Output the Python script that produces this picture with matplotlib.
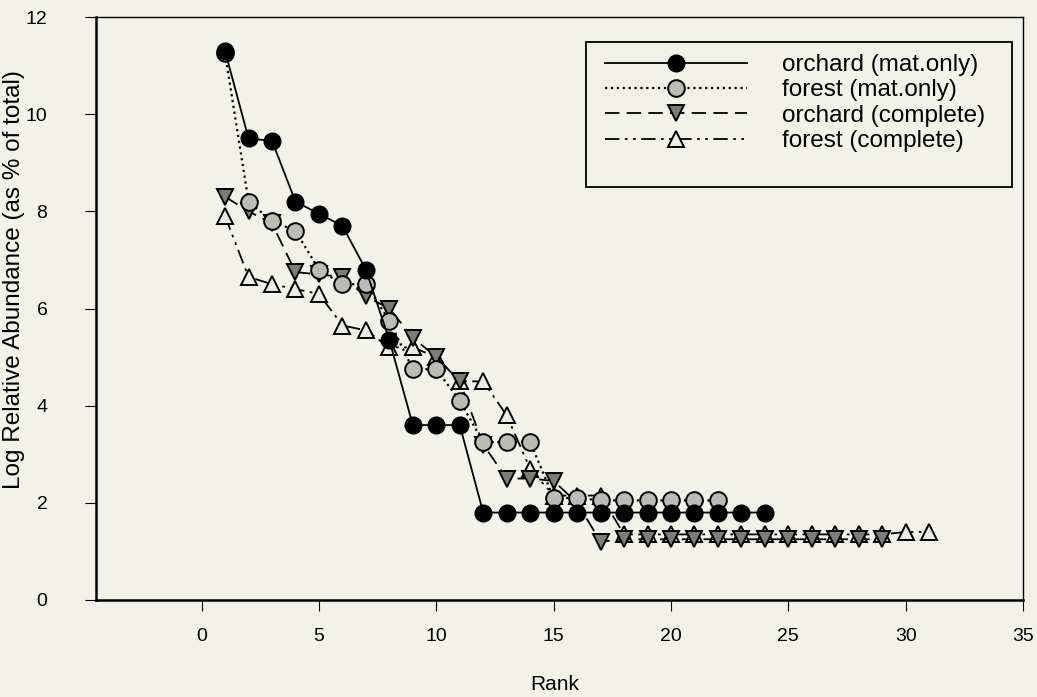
import matplotlib.pyplot as plt
from matplotlib.patches import Rectangle

# rank abundance data
orchard_mat_rank = list(range(1, 25))
orchard_mat = [11.3, 9.5, 9.45, 8.2, 7.95, 7.7, 6.8, 5.35, 3.6, 3.6, 3.6, 1.8,
               1.8, 1.8, 1.8, 1.8, 1.8, 1.8, 1.8, 1.8, 1.8, 1.8, 1.8, 1.8]

forest_mat_rank = list(range(1, 23))
forest_mat = [11.25, 8.2, 7.8, 7.6, 6.8, 6.5, 6.5, 5.75, 4.75, 4.75, 4.1, 3.25,
              3.25, 3.25, 2.1, 2.1, 2.05, 2.05, 2.05, 2.05, 2.05, 2.05]

orchard_comp_rank = list(range(1, 30))
orchard_comp = [8.3, 8.0, 7.75, 6.75, 6.7, 6.65, 6.25, 6.0, 5.4, 5.0, 4.5, 3.2,
                2.5, 2.5, 2.45, 2.0, 1.2, 1.25, 1.25, 1.25, 1.25, 1.25, 1.25,
                1.25, 1.25, 1.25, 1.25, 1.25, 1.25]

forest_comp_rank = list(range(1, 32))
forest_comp = [7.9, 6.65, 6.5, 6.4, 6.3, 5.65, 5.55, 5.2, 5.2, 5.0, 4.5, 4.5,
               3.8, 2.7, 2.15, 2.15, 2.15, 1.35, 1.35, 1.35, 1.35, 1.35, 1.35,
               1.35, 1.35, 1.35, 1.35, 1.35, 1.35, 1.4, 1.4]

bg = '#f2f2e8'
plt.rcParams['font.family'] = ['Liberation Sans', 'DejaVu Sans']

W, H = 1037, 697
fig = plt.figure(figsize=(W / 100, H / 100), dpi=100, facecolor=bg)
ax = fig.add_axes([96 / W, 1 - 600 / H, (1023 - 96) / W, (600 - 17) / H], facecolor=bg)

ms = 12
ax.plot(orchard_mat_rank, orchard_mat, '-', color='black', lw=1.3,
        marker='o', ms=ms, mfc='black', mec='black', label='orchard (mat.only)', zorder=5)
ax.plot(forest_mat_rank, forest_mat, ':', color='black', lw=1.6,
        marker='o', ms=ms, mfc='#bcbcb6', mec='black', mew=1.4, label='forest (mat.only)', zorder=4)
ax.plot(orchard_comp_rank, orchard_comp, color='black', lw=1.3, dashes=(8, 4),
        marker='v', ms=ms, mfc='#7c7c78', mec='black', mew=1.4, label='orchard (complete)', zorder=3)
ax.plot(forest_comp_rank, forest_comp, color='black', lw=1.3, dashes=(8, 3, 1.5, 3, 1.5, 3),
        marker='^', ms=ms, mfc='#ececE2', mec='black', mew=1.4, label='forest (complete)', zorder=2)

ax.set_xlim(-4.5, 35)
ax.set_ylim(0, 12)
ax.set_xticks([0, 5, 10, 15, 20, 25, 30, 35])
ax.set_yticks([0, 2, 4, 6, 8, 10, 12])
ax.tick_params(axis='x', direction='out', length=8, pad=12, labelsize=14)
ax.tick_params(axis='y', direction='out', length=8, pad=27, labelsize=14)
for s in ['left', 'bottom']:
    ax.spines[s].set_linewidth(1.8)
for s in ['top', 'right']:
    ax.spines[s].set_linewidth(1.0)

ax.set_xlabel('Rank', fontsize=15)
ax.set_ylabel('Log Relative Abundance (as % of total)', fontsize=17.5)
ax.xaxis.set_label_coords(0.495, -0.128)
ax.yaxis.set_label_coords(-0.077, 0.55)

# legend box drawn separately (extra space below the entries in the original)
box = Rectangle((586 / W, 1 - 187 / H), (1012 - 586) / W, (187 - 42) / H,
                transform=fig.transFigure, facecolor=bg, edgecolor='black', lw=1.3, zorder=10)
ax.add_patch(box)
leg = ax.legend(loc='upper left', bbox_to_anchor=(605 / W, 1 - 54 / H),
                bbox_transform=fig.transFigure, fontsize=17.5, frameon=False,
                handlelength=5.85, numpoints=1, borderpad=0, borderaxespad=0,
                labelspacing=0.14, handletextpad=1.45)
leg.set_zorder(11)

fig.savefig('out.png', dpi=100, facecolor=bg)
